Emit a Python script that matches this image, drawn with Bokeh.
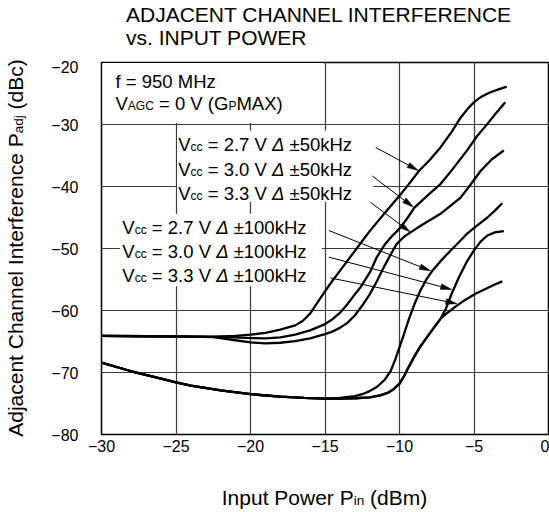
import math
from bokeh.plotting import figure
from bokeh.models import Label, FixedTicker, Div
from bokeh.layouts import column, row
from bokeh.embed import file_html
from bokeh.resources import INLINE

FONT = "Liberation Sans"

# ---------------- data ----------------
x_ticks = [-30, -25, -20, -15, -10, -5, 0]
x_tick_labels = ["\u221230", "\u221225", "\u221220", "\u221215", "\u221210", "\u22125", "0"]
y_ticks = [-80, -70, -60, -50, -40, -30, -20]
y_tick_labels = ["\u221280", "\u221270", "\u221260", "\u221250", "\u221240", "\u221230", "\u221220"]

# Vcc = 2.7 V, +-50 kHz
x27_50 = [-30, -27, -24, -22.5, -21, -20, -19, -18, -17, -16.5, -16, -15.5, -15, -14.5, -14, -13.5,
          -13, -12.5, -12, -11, -10, -9.4, -8.7, -8.0, -7.25, -6.5, -5.9, -5.4, -5.0, -4.5, -3.9, -3.3, -2.8]
y27_50 = [-64.1, -64.15, -64.2, -64.2, -64.1, -63.9, -63.6, -63.1, -62.4, -61.7, -60.5, -58.7, -56.9, -55.2,
          -53.6, -52.0, -50.4, -48.8, -47.2, -44.3, -41.5, -39.7, -37.5, -35.8, -33.7, -31.2, -28.9, -27.4,
          -26.4, -25.5, -24.8, -24.3, -23.9]
# Vcc = 3.0 V, +-50 kHz
x30_50 = [-30, -27, -24, -22.5, -21, -20, -19, -18, -17, -16, -15, -14.5, -14, -13.5, -13, -12.6, -12,
          -11.5, -11, -10.5, -10, -9.5, -9.0, -8.0, -7.25, -6.5, -5.5, -4.8, -4.1, -3.5, -2.9]
y30_50 = [-64.1, -64.15, -64.2, -64.25, -64.35, -64.45, -64.5, -64.35, -63.9, -63.2, -62.2, -61.4, -60.4,
          -59.0, -57.4, -56.2, -53.9, -51.3, -49.4, -48.0, -46.8, -45.2, -43.4, -41.2, -39.6, -37.4, -34.3,
          -31.9, -29.9, -28.1, -26.4]
# Vcc = 3.3 V, +-50 kHz
x33_50 = [-30, -27, -24, -22.5, -21, -20, -19, -18, -17, -16, -15, -14.5, -14, -13.5, -13, -12.5, -12,
          -11.5, -11.05, -10.6, -10.2, -9.7, -9.26, -8.5, -7.25, -5.9, -5.2, -4.56, -3.8, -3.0]
y33_50 = [-64.1, -64.15, -64.2, -64.3, -64.8, -65.15, -65.3, -65.2, -64.95, -64.5, -63.8, -63.4, -62.8,
          -62.0, -60.8, -59.2, -57.4, -55.2, -53.0, -51.0, -49.3, -48.1, -47.4, -46.2, -44.4, -41.8, -39.6,
          -37.5, -35.6, -34.2]
# Vcc = 2.7 V, +-100 kHz
x27_100 = [-30, -28, -26, -25, -24, -22, -20, -18, -16.4, -15, -14, -13, -12.5, -12, -11.5, -11, -10.6,
           -10.3, -10.0, -9.7, -9.4, -9.0, -8.6, -8.2, -7.8, -7.3, -6.8, -6.1, -5.5, -4.8, -4.1, -3.6, -3.1]
y27_100 = [-68.4, -69.8, -71.0, -71.6, -72.1, -72.9, -73.5, -73.9, -74.1, -74.2, -74.1, -73.8, -73.5, -73.0,
           -72.3, -71.2, -69.8, -68.0, -65.9, -63.8, -61.6, -59.0, -56.8, -55.0, -53.6, -52.2, -50.9, -49.2,
           -47.7, -46.3, -45.0, -43.9, -42.7]
# Vcc = 3.0 V, +-100 kHz
x30_100 = [-30, -28, -26, -25, -24, -22, -20, -18, -16.4, -15, -14, -13, -12, -11.3, -10.8, -10.4, -10.0,
           -9.7, -9.4, -9.0, -8.6, -8.15, -7.7, -7.25, -6.9, -6.5, -6.0, -5.5, -5.0, -4.56, -4.1, -3.6, -3.0]
y30_100 = [-68.4, -69.8, -71.0, -71.6, -72.1, -72.9, -73.5, -73.9, -74.1, -74.2, -74.2, -74.15, -74.0, -73.7,
           -73.3, -72.7, -71.8, -70.6, -69.2, -67.4, -65.8, -64.3, -62.8, -61.35, -59.8, -57.3, -54.6, -52.2,
           -50.3, -48.9, -47.9, -47.4, -47.2]
# Vcc = 3.3 V, +-100 kHz
x33_100 = [-30, -28, -26, -25, -24, -22, -20, -18, -16.4, -15, -14, -13, -12, -11.3, -10.8, -10.4, -10.0,
           -9.7, -9.4, -9.0, -8.6, -8.15, -7.7, -7.25, -6.8, -6.2, -5.6, -4.9, -4.2, -3.6, -3.1]
y33_100 = [-68.4, -69.8, -71.0, -71.6, -72.1, -72.9, -73.5, -73.9, -74.1, -74.2, -74.2, -74.15, -74.0, -73.7,
           -73.3, -72.7, -71.8, -70.6, -69.2, -67.4, -65.8, -64.3, -62.8, -61.35, -60.4, -59.3, -58.3, -57.3,
           -56.5, -55.8, -55.3]

curves = [(x27_50, y27_50), (x30_50, y30_50), (x33_50, y33_50),
          (x27_100, y27_100), (x30_100, y30_100), (x33_100, y33_100)]

vcc_values = ["2.7", "3.0", "3.3"]

# leader arrows: (start), (tip) in data units
arrow_start_x = [-11.6, -11.83, -11.95, -14.74, -14.74, -14.63]
arrow_start_y = [-33.7, -38.3, -42.55, -47.1, -51.4, -54.75]
arrow_end_x = [-8.75, -9.08, -9.3, -7.92, -6.5, -6.15]
arrow_end_y = [-37.4, -43.3, -47.3, -53.6, -56.6, -58.9]

# ---------------- text metrics (Arial / Liberation Sans advance widths, em) ----------------
CW = {" ": .278, "(": .333, ")": .333, ".": .278, "=": .584, "\u00b1": .549, "\u0394": .668, "\u2212": .584,
      "0": .556, "1": .556, "2": .556, "3": .556, "4": .556, "5": .556, "6": .556, "7": .556, "8": .556, "9": .556,
      "A": .667, "C": .722, "G": .778, "H": .722, "M": .833, "P": .667, "V": .667, "X": .667,
      "c": .5, "f": .278, "k": .5, "z": .5}


def tw(s, size):
    return sum(CW.get(c, .556) for c in s) * size


FRAME_W, FRAME_H = 447, 372
p = figure(width=513, height=402, x_range=(-30, 0), y_range=(-80, -20),
           output_backend="svg", toolbar_location=None,
           min_border_left=65, min_border_right=1, min_border_top=2, min_border_bottom=28)
p.background_fill_color = "white"
p.border_fill_color = "white"
p.outline_line_color = "black"
p.outline_line_width = 1.5

p.xaxis.ticker = FixedTicker(ticks=x_ticks)
p.yaxis.ticker = FixedTicker(ticks=y_ticks)
p.xaxis.major_label_overrides = dict(zip(x_ticks, x_tick_labels))
p.yaxis.major_label_overrides = dict(zip(y_ticks, y_tick_labels))
for ax in (p.xaxis[0], p.yaxis[0]):
    ax.axis_line_color = None
    ax.major_tick_in = 0
    ax.major_tick_out = 0
    ax.minor_tick_line_color = None
    ax.major_label_text_font = FONT
    ax.major_label_text_font_size = "16px"
    ax.major_label_text_color = "black"
p.xaxis.major_label_standoff = 5
p.yaxis.major_label_standoff = 23

for g in (p.xgrid[0], p.ygrid[0]):
    g.grid_line_color = "#3a3a3a"
    g.grid_line_width = 1.2

# white boxes behind the annotation texts (hide the grid there)
p.quad(left=[-29.92, -24.93, -28.75], right=[-15.1, -11.75, -15.2],
       bottom=[-29.75, -42.5, -56.1], top=[-20.1, -31.0, -44.4],
       fill_color="white", line_color=None)

for xs, ys in curves:
    p.line(xs, ys, line_color="black", line_width=2.3, line_join="round")

# arrows: thin shafts + slim filled heads (computed in pixel space)
XPX = FRAME_W / 30.0
YPX = FRAME_H / 60.0
HEAD_L, HEAD_W = 11.0, 2.8
sx0, sy0, sx1, sy1, hx, hy = [], [], [], [], [], []
for x0, y0, x1, y1 in zip(arrow_start_x, arrow_start_y, arrow_end_x, arrow_end_y):
    dx, dy = (x1 - x0) * XPX, (y1 - y0) * YPX
    n = math.hypot(dx, dy)
    ux, uy = dx / n, dy / n
    bx, by = x1 * XPX - ux * HEAD_L, y1 * YPX - uy * HEAD_L
    nx, ny = -uy, ux
    sx0.append(x0); sy0.append(y0); sx1.append(bx / XPX); sy1.append(by / YPX)
    hx.append([x1, (bx + nx * HEAD_W) / XPX, (bx - nx * HEAD_W) / XPX])
    hy.append([y1, (by + ny * HEAD_W) / YPX, (by - ny * HEAD_W) / YPX])
p.segment(sx0, sy0, sx1, sy1, line_color="black", line_width=1)
p.patches(hx, hy, fill_color="black", line_color="black", line_width=0.6)

MID = 0.3465  # distance (em) from the alphabetic baseline up to the middle of the text box


def rich(x, y, pieces):
    off = 0.0
    for txt, size, style in pieces:
        stripped = txt.strip(" ")
        lead = len(txt) - len(txt.lstrip(" "))
        pos = off + tw(" " * lead, size)
        if stripped:
            p.add_layout(Label(x=x, y=y, x_offset=pos, y_offset=MID * size,
                               text=stripped, text_font=FONT, text_font_size=f"{size}px",
                               text_font_style=style, text_color="black", text_align="left",
                               text_baseline="middle"))
        off += tw(txt, size)


BIG = 18.5
SMALL = 12

# condition box
rich(-29.06, -24.1, [("f = 950 MHz", BIG, "normal")])
rich(-29.06, -27.67, [("V", BIG, "normal"), ("AGC", SMALL, "normal"), (" = 0 V (G", BIG, "normal"),
                      ("P", SMALL, "normal"), ("MAX)", BIG, "normal")])

# series labels
lab50_y = [-34.3, -38.3, -42.2]
lab100_y = [-47.65, -51.5, -55.45]
for v, yy in zip(vcc_values, lab50_y):
    rich(-24.85, yy, [("V", BIG, "normal"), ("cc", SMALL, "normal"), (f" = {v} V ", BIG, "normal"),
                      ("\u0394", BIG, "italic"), (" \u00b150kHz", BIG, "normal")])
for v, yy in zip(vcc_values, lab100_y):
    rich(-28.6, yy, [("V", BIG, "normal"), ("cc", SMALL, "normal"), (f" = {v} V ", BIG, "normal"),
                     ("\u0394", BIG, "italic"), (" \u00b1100kHz", BIG, "normal")])

# ---------------- titles (HTML text around the figure) ----------------
CSS = "font-family:'Liberation Sans',Arial,sans-serif;color:#000;white-space:nowrap;"

title_div = Div(width=549, height=60, margin=0, text=(
    '<div style="position:relative;width:549px;height:60px;">'
    f'<div style="position:absolute;left:126px;top:3px;{CSS}font-size:21px;line-height:23px;">'
    'ADJACENT CHANNEL INTERFERENCE<br>vs. INPUT POWER</div></div>'))

ylab_div = Div(width=36, height=402, margin=0, text=(
    '<div style="position:relative;width:36px;height:402px;">'
    f'<div style="position:absolute;left:16.7px;top:188px;transform:translate(-50%,-50%) rotate(-90deg);'
    f'{CSS}font-size:21px;line-height:21px;">'
    'Adjacent Channel Interference P<span style="font-size:13.5px">adj</span> (dBc)</div></div>'))

xlab_div = Div(width=549, height=50, margin=0, text=(
    '<div style="position:relative;width:549px;height:50px;">'
    f'<div style="position:absolute;left:324.5px;top:25px;transform:translateX(-50%);'
    f'{CSS}font-size:21px;line-height:21px;">'
    'Input Power P<span style="font-size:13.5px">in</span> (dBm)</div></div>'))

layout = column(title_div, row(ylab_div, p, spacing=0), xlab_div, spacing=0)

open("out.html", "w").write(file_html(layout, INLINE))
